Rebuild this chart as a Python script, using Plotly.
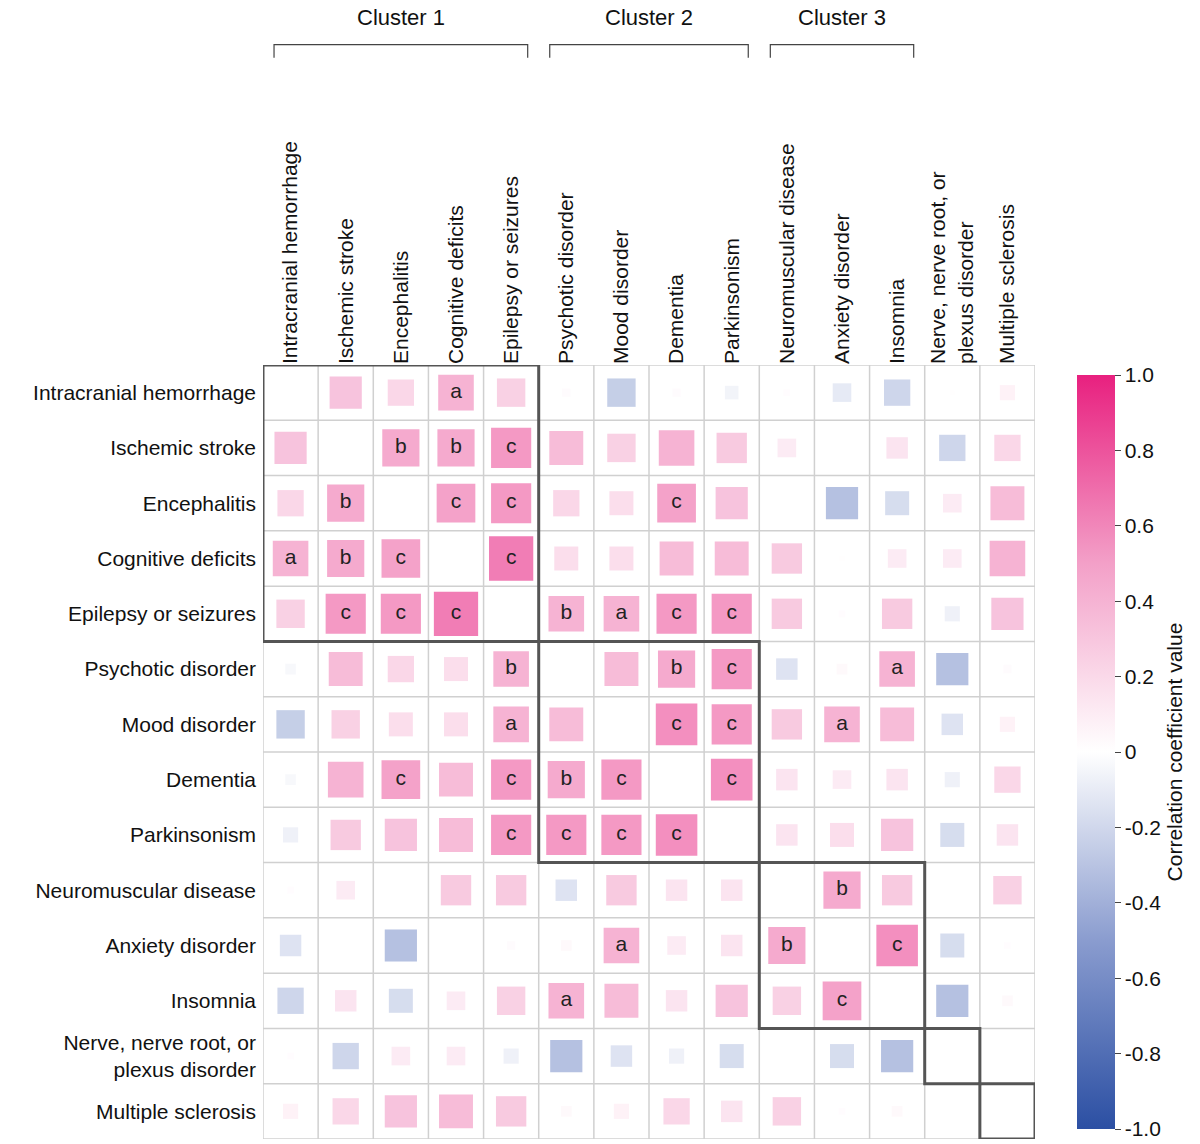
import numpy as np
import plotly.graph_objects as go

labels = ["Intracranial hemorrhage", "Ischemic stroke", "Encephalitis", "Cognitive deficits",
          "Epilepsy or seizures", "Psychotic disorder", "Mood disorder", "Dementia", "Parkinsonism",
          "Neuromuscular disease", "Anxiety disorder", "Insomnia",
          "Nerve, nerve root, or<br>plexus disorder", "Multiple sclerosis"]

nan = None
corr = [
    [nan, 0.45, 0.3, 0.55, 0.35, 0.03, -0.35, 0.03, -0.08, 0.02, -0.15, -0.3, 0.01, 0.1],
    [0.45, nan, 0.6, 0.6, 0.7, 0.5, 0.35, 0.55, 0.4, 0.15, 0, 0.2, -0.3, 0.3],
    [0.3, 0.6, nan, 0.65, 0.7, 0.3, 0.25, 0.65, 0.45, 0, -0.45, -0.25, 0.15, 0.5],
    [0.55, 0.6, 0.65, nan, 0.85, 0.25, 0.25, 0.5, 0.5, 0.4, 0.01, 0.15, 0.15, 0.55],
    [0.35, 0.7, 0.7, 0.85, nan, 0.55, 0.55, 0.7, 0.7, 0.4, 0.02, 0.4, -0.1, 0.45],
    [-0.05, 0.5, 0.3, 0.25, 0.55, nan, 0.5, 0.6, 0.7, -0.2, 0.05, 0.55, -0.45, 0.03],
    [-0.35, 0.35, 0.25, 0.25, 0.55, 0.5, nan, 0.75, 0.7, 0.4, 0.55, 0.5, -0.2, 0.1],
    [-0.05, 0.55, 0.65, 0.5, 0.7, 0.6, 0.7, nan, 0.75, 0.2, 0.15, 0.2, -0.1, 0.3],
    [-0.1, 0.4, 0.45, 0.5, 0.7, 0.7, 0.7, 0.75, nan, 0.2, 0.25, 0.45, -0.25, 0.2],
    [0.02, 0.15, 0, 0.4, 0.4, -0.2, 0.4, 0.2, 0.2, nan, 0.6, 0.4, 0, 0.35],
    [-0.2, 0, -0.45, 0, 0.03, 0.05, 0.55, 0.15, 0.2, 0.6, nan, 0.75, -0.25, 0.02],
    [-0.3, 0.2, -0.25, 0.15, 0.35, 0.55, 0.5, 0.2, 0.45, 0.35, 0.65, nan, -0.45, 0.05],
    [0.02, -0.3, 0.15, 0.15, -0.1, -0.45, -0.2, -0.1, -0.25, 0, -0.25, -0.45, nan, 0],
    [0.1, 0.3, 0.45, 0.5, 0.4, 0.05, 0.1, 0.3, 0.2, 0.35, 0.02, 0.05, 0, nan],
]

# significance letters (upper triangle, mirrored)
sig = [(0, 3, "a"), (1, 2, "b"), (1, 3, "b"), (1, 4, "c"), (2, 3, "c"), (2, 4, "c"), (2, 7, "c"),
       (3, 4, "c"), (4, 5, "b"), (4, 6, "a"), (4, 7, "c"), (4, 8, "c"), (5, 7, "b"), (5, 8, "c"),
       (5, 11, "a"), (6, 7, "c"), (6, 8, "c"), (6, 10, "a"), (7, 8, "c"), (9, 10, "b"), (10, 11, "c")]

clusters = [(0, 4, "Cluster 1"), (5, 8, "Cluster 2"), (9, 11, "Cluster 3"), (12, 12, None), (13, 13, None)]

n = len(labels)
xs, ys, vals, sizes = [], [], [], []
for i in range(n):
    for j in range(n):
        v = corr[i][j]
        if v is None or v == 0:
            continue
        xs.append(j); ys.append(i); vals.append(v)
        sizes.append(48 * np.sqrt(abs(v)))

cscale = [[0, "#2b4fa3"], [0.25, "#8a9ccf"], [0.5, "#ffffff"], [0.75, "#f3a0c8"], [1, "#e8207f"]]

fig = go.Figure()
fig.add_trace(go.Scatter(
    x=xs, y=ys, mode="markers", hoverinfo="skip",
    marker=dict(symbol="square", size=sizes, color=vals, colorscale=cscale, cmin=-1, cmax=1,
                line=dict(width=0),
                colorbar=dict(x=1.041, xanchor="left", y=0, yanchor="bottom", len=1, lenmode="fraction",
                              thickness=38, outlinewidth=0, ticks="outside", ticklen=6,
                              tickvals=[-1, -0.8, -0.6, -0.4, -0.2, 0, 0.2, 0.4, 0.6, 0.8, 1],
                              ticktext=["-1.0", "-0.8", "-0.6", "-0.4", "-0.2", "0", "0.2", "0.4", "0.6", "0.8", "1.0"],
                              tickfont=dict(size=21),
                              title=dict(text="Correlation coefficient value", side="right",
                                         font=dict(size=21)))),
    showlegend=False))

lx, ly, lt = [], [], []
for i, j, t in sig:
    lx += [j, i]; ly += [i, j]; lt += [t, t]
fig.add_trace(go.Scatter(x=lx, y=ly, text=lt, mode="text", hoverinfo="skip",
                         textfont=dict(size=21, color="#222"), showlegend=False))

shapes = []
for k in range(n + 1):
    p = k - 0.5
    shapes.append(dict(type="line", x0=p, x1=p, y0=-0.5, y1=n - 0.5, line=dict(color="#d0d0d0", width=1.5)))
    shapes.append(dict(type="line", y0=p, y1=p, x0=-0.5, x1=n - 0.5, line=dict(color="#d0d0d0", width=1.5)))
for a, b, name in clusters:
    shapes.append(dict(type="rect", x0=a - 0.5, x1=b + 0.5, y0=a - 0.5, y1=b + 0.5,
                       line=dict(color="#555", width=3)))
    if name:
        shapes.append(dict(type="path", xref="x", yref="paper",
                           path=f"M {a - 0.3},1.397 L {a - 0.3},1.414 L {b + 0.3},1.414 L {b + 0.3},1.397",
                           line=dict(color="#444", width=1.2)))
annotations = [dict(x=(a + b) / 2, y=1.43, xref="x", yref="paper", text=name, showarrow=False,
                    yanchor="bottom", font=dict(size=22, color="#111"))
               for a, b, name in clusters if name]

fig.update_layout(
    width=1200, height=1144, margin=dict(l=255, r=170, t=357, b=13),
    plot_bgcolor="white", paper_bgcolor="white", shapes=shapes, annotations=annotations,
    font=dict(family="Liberation Sans Narrow, Arial Narrow, sans-serif", size=21, color="#111"),
    xaxis=dict(range=[-0.5, n - 0.5], side="top", tickvals=list(range(n)), ticktext=labels,
               tickangle=-90, showgrid=False, zeroline=False, ticks="", fixedrange=True),
    yaxis=dict(range=[n - 0.5, -0.5], tickvals=list(range(n)), ticktext=labels,
               showgrid=False, zeroline=False, ticks="", ticklabelstandoff=6),
)
fig.write_html("out.html")
